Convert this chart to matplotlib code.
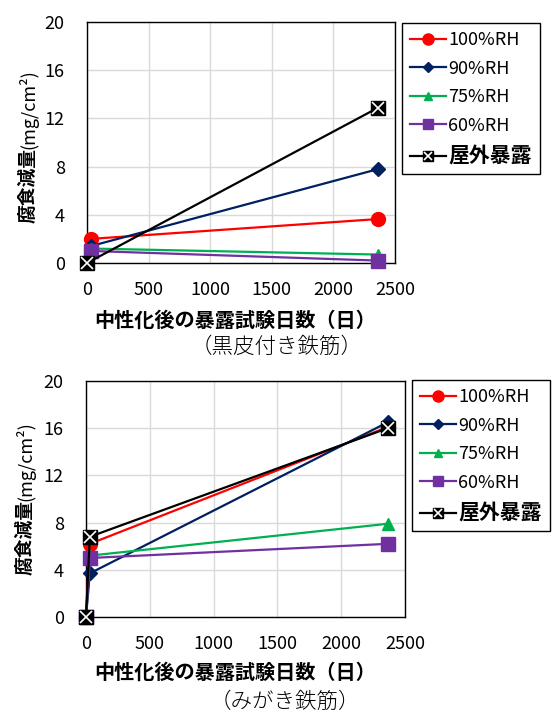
import matplotlib
matplotlib.use('Agg')
import matplotlib.pyplot as plt
from matplotlib.legend_handler import HandlerTuple

plt.rcParams['font.family'] = ['Noto Sans CJK JP', 'DejaVu Sans']

# data
labels = ['100%RH', '90%RH', '75%RH', '60%RH', '屋外暴露']
colors = ['#FF0000', '#002060', '#00B050', '#7030A0', '#000000']
markers = ['o', 'D', '^', 's', 's']

# black-scale rebar (黒皮付き鉄筋)
top_days_rh = [30, 2365]
top_days_out = [0, 2365]
top_100 = [2.0, 3.65]
top_90 = [1.4, 7.8]
top_75 = [1.2, 0.7]
top_60 = [1.0, 0.2]
top_out = [0.0, 12.9]

# polished rebar (みがき鉄筋)
bot_days = [0, 30, 2365]
bot_100 = [0.0, 6.2, 16.1]
bot_90 = [0.0, 3.7, 16.5]
bot_75 = [0.0, 5.2, 7.9]
bot_60 = [0.0, 5.0, 6.2]
bot_out = [0.0, 6.8, 16.0]

xticks = [0, 500, 1000, 1500, 2000, 2500]
yticks = [0, 4, 8, 12, 16, 20]

W, H = 553, 713
fig = plt.figure(figsize=(W / 100, H / 100), dpi=100)


def draw_panel(rect, xs_list, ys_list, legend_anchor, ylab_x, ylab_y0, xlab_y, cap_text, cap_x, cap_y):
    ax = fig.add_axes(rect)
    handles = []
    for i, (xs, ys) in enumerate(zip(xs_list, ys_list)):
        ms = {'o': 10, 'D': 7, '^': 8, 's': 9.5}[markers[i]]
        line, = ax.plot(xs, ys, color=colors[i], lw=1.6, marker=markers[i],
                        ms=ms, mec=colors[i], mfc=colors[i], zorder=3 + i, clip_on=False)
        if i == 4:
            xm, = ax.plot(xs, ys, ls='none', marker='x', ms=8, mew=1.2,
                          color='white', zorder=9, clip_on=False)
            handles.append((line, xm))
        else:
            handles.append(line)
    ax.set_xlim(0, 2500)
    ax.set_ylim(0, 20)
    ax.set_xticks(xticks)
    ax.set_yticks(yticks)
    ax.tick_params(length=0, labelsize=13)
    ax.tick_params(axis='y', pad=16)
    ax.tick_params(axis='x', pad=13)
    ax.grid(True, color='#D9D9D9', lw=1)
    ax.set_axisbelow(True)
    for s in ax.spines.values():
        s.set_color('black')
        s.set_linewidth(1.0)

    leg = fig.legend(handles, labels, loc='upper left',
                     bbox_to_anchor=(legend_anchor[0] / W, 1 - legend_anchor[1] / H),
                     bbox_transform=fig.transFigure, fontsize=13, frameon=True,
                     fancybox=False, edgecolor='black', framealpha=1,
                     handlelength=2.0, handletextpad=0.1, labelspacing=0.58,
                     borderpad=0.45, borderaxespad=0, markerscale=0.8,
                     handler_map={tuple: HandlerTuple(ndivide=1)})
    leg.get_frame().set_linewidth(1.0)
    leg.get_texts()[4].set_fontweight('bold')
    leg.get_texts()[4].set_fontsize(15)

    # y label: bold kanji + regular unit
    fig.text(ylab_x / W, 1 - ylab_y0 / H, '腐食減量', rotation=90, ha='center', va='bottom',
             fontsize=13.5, fontweight='bold')
    fig.text(ylab_x / W, 1 - (ylab_y0 - 74) / H, '(mg/cm²)', rotation=90, ha='center', va='bottom',
             fontsize=13)
    fig.text(235 / W, 1 - xlab_y / H, '中性化後の暴露試験日数（日）', ha='center', va='center',
             fontsize=14.5, fontweight='bold')
    fig.text(cap_x / W, 1 - cap_y / H, cap_text, ha='center', va='center',
             fontsize=15.5, fontweight='light')
    return ax


draw_panel([87 / W, 1 - 263 / H, 308 / W, 241 / H],
           [top_days_rh, top_days_rh, top_days_rh, top_days_rh, top_days_out],
           [top_100, top_90, top_75, top_60, top_out],
           (402, 23), 28, 223, 320, '（黒皮付き鉄筋）', 277, 347)

draw_panel([86 / W, 1 - 617 / H, 319 / W, 236 / H],
           [bot_days] * 5,
           [bot_100, bot_90, bot_75, bot_60, bot_out],
           (412, 380), 25, 575, 672, '（みがき鉄筋）', 285, 702)

fig.savefig('out.png', dpi=100)
